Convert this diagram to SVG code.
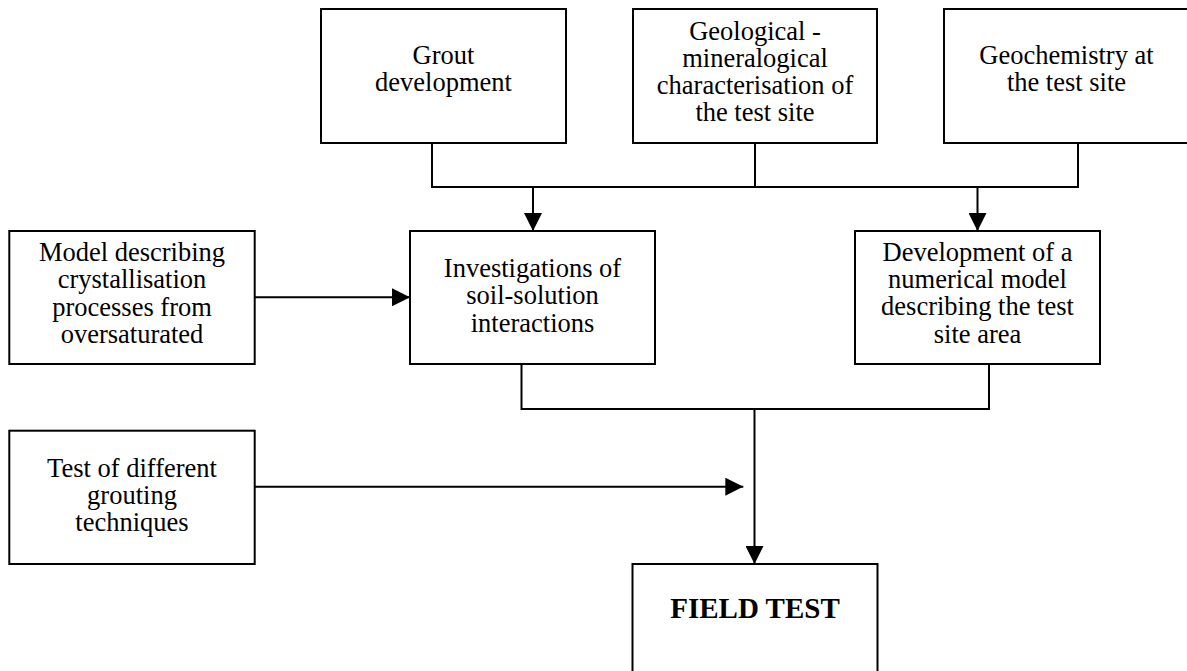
<svg xmlns="http://www.w3.org/2000/svg" width="1187" height="671" viewBox="0 0 1187 671">
<style>
.box{fill:#fff;stroke:#000;stroke-width:2}
.t{font-family:"Liberation Serif","Times New Roman",serif;font-size:26.5px;fill:#000;text-anchor:middle}
.b{font-family:"Liberation Serif","Times New Roman",serif;font-size:29px;font-weight:bold;fill:#000;text-anchor:middle}
.c{fill:none;stroke:#000;stroke-width:2}
</style>
<defs>
<marker id="ah" markerUnits="userSpaceOnUse" markerWidth="18" markerHeight="18" refX="18" refY="9" orient="auto">
<path d="M0,0 L18,9 L0,18 z" fill="#000"/>
</marker>
</defs>
<rect width="1187" height="671" fill="#fff"/>
<g id="connectors">
<path class="c" d="M432,143 V187 H1078 V143"/>
<path class="c" d="M755,143 V187"/>
<path class="c" d="M533,187 V231" marker-end="url(#ah)"/>
<path class="c" d="M977.5,187 V231" marker-end="url(#ah)"/>
<path class="c" d="M254.7,297.3 H410" marker-end="url(#ah)"/>
<path class="c" d="M521.5,364 V409 H989 V364"/>
<path class="c" d="M754.5,409 V564" marker-end="url(#ah)"/>
<path class="c" d="M254.7,486.7 H743.3" marker-end="url(#ah)"/>
</g>
<g id="grout">
<rect class="box" x="321" y="9" width="245" height="134"/>
<text class="t" x="443.5" y="64">Grout</text>
<text class="t" x="443.5" y="91">development</text>
</g>
<g id="geological">
<rect class="box" x="633" y="9" width="244" height="134"/>
<text class="t" x="755" y="39.5">Geological -</text>
<text class="t" x="755" y="66.7">mineralogical</text>
<text class="t" x="755" y="94">characterisation of</text>
<text class="t" x="755" y="121">the test site</text>
</g>
<g id="geochemistry">
<rect class="box" x="944" y="9" width="245" height="134"/>
<text class="t" x="1066.5" y="64.3">Geochemistry at</text>
<text class="t" x="1066.5" y="90.7">the test site</text>
</g>
<g id="model">
<rect class="box" x="9.3" y="231" width="245.4" height="133"/>
<text class="t" x="132" y="260.7">Model describing</text>
<text class="t" x="132" y="288">crystallisation</text>
<text class="t" x="132" y="315.5">processes from</text>
<text class="t" x="132" y="342.7">oversaturated</text>
</g>
<g id="investigations">
<rect class="box" x="410" y="231" width="245" height="133"/>
<text class="t" x="532.5" y="277.3">Investigations of</text>
<text class="t" x="532.5" y="304.3">soil-solution</text>
<text class="t" x="532.5" y="331.7">interactions</text>
</g>
<g id="numerical">
<rect class="box" x="855" y="231" width="245" height="133"/>
<text class="t" x="977.5" y="261">Development of a</text>
<text class="t" x="977.5" y="288.3">numerical model</text>
<text class="t" x="977.5" y="315">describing the test</text>
<text class="t" x="977.5" y="342.7">site area</text>
</g>
<g id="grouting">
<rect class="box" x="9.3" y="430.7" width="245.4" height="133.3"/>
<text class="t" x="132" y="476.7">Test of different</text>
<text class="t" x="132" y="504">grouting</text>
<text class="t" x="132" y="530.5">techniques</text>
</g>
<g id="fieldtest">
<rect class="box" x="632.5" y="564" width="245" height="133"/>
<text class="b" x="755" y="617.7">FIELD TEST</text>
</g>
</svg>
